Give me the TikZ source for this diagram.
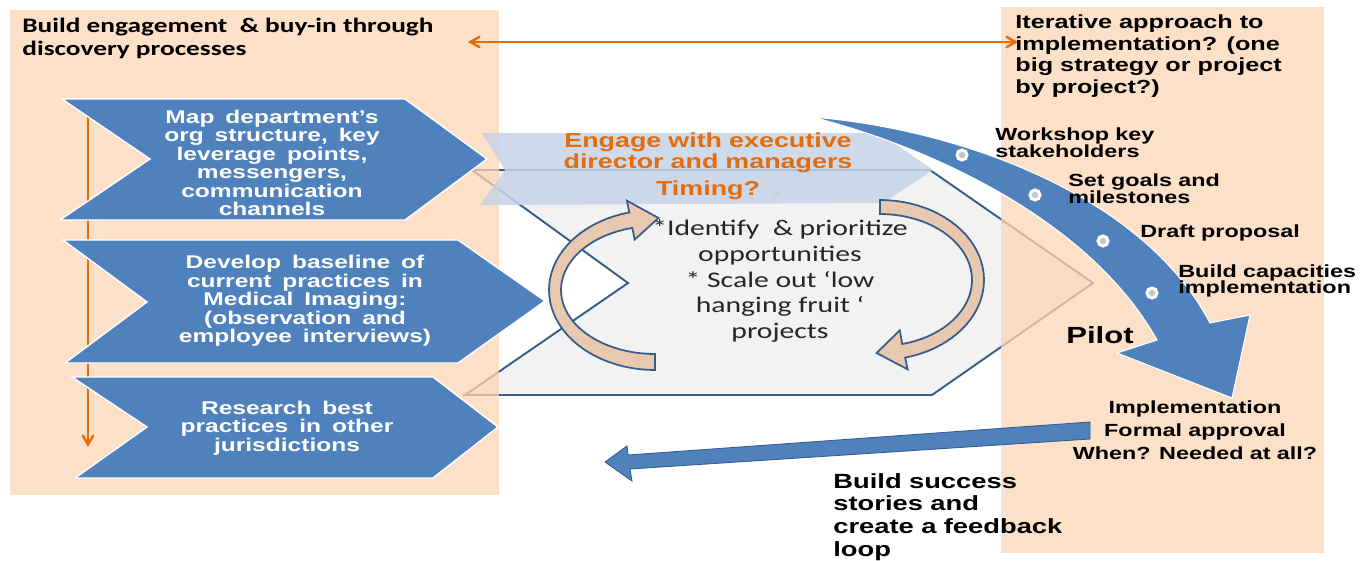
\documentclass[tikz,border=0pt]{standalone}
\usepackage{fontspec}
\newfontfamily\arialw{Liberation Sans}[FakeStretch=1.33]
\newfontfamily\arialsp{Liberation Sans}[FakeStretch=1.33,WordSpace=1.6]
\newfontfamily\calw{Carlito}[FakeStretch=1.33]
\newcommand\wordgap[1]{\spaceskip #1\relax}
\usetikzlibrary{shapes,arrows,positioning,calc}
\definecolor{peachbox}{HTML}{FCD5B5}
\definecolor{chevblue}{HTML}{4F81BD}
\definecolor{darkblue}{HTML}{385D8A}
\definecolor{centergray}{HTML}{F2F2F2}
\definecolor{bannerblue}{HTML}{C6D3E6}
\definecolor{orangeline}{HTML}{E46C0A}
\definecolor{arrowtan}{HTML}{E8C8AE}
\definecolor{textgray}{HTML}{262626}

\begin{document}
\begin{tikzpicture}[
    x=0.02cm, y=-0.02cm,
    peach/.style={fill=peachbox, fill opacity=0.75},
    chev/.style={fill=chevblue, draw=white, line width=0.8pt},
    chevtext/.style={text=white, font=\arialsp\bfseries\fontsize{10.5}{10.5}\selectfont, align=center, inner sep=0pt},
    note/.style={font=\arialw\bfseries\fontsize{10}{9.6}\selectfont\wordgap{3.6pt}, align=left, inner sep=0pt, anchor=west},
    banner/.style={fill=bannerblue, fill opacity=0.85},
    curl/.style={fill=arrowtan, draw=darkblue, line width=1pt},
    bigarrow/.style={fill=chevblue, draw=white, line width=0.6pt},
    dot/.style={circle, fill=gray!45, draw=white, line width=0.06cm, minimum size=0.2cm, inner sep=0pt},
    arrow/.style={>=angle 60, line width=1.4pt, draw=orangeline}
]
    \useasboundingbox (0,0) rectangle (1363,561);

    % centre chevron behind everything
    \path[fill=centergray, draw=darkblue, line width=1.1pt]
        (472,170) -- (930,170) -- (1093,283) -- (932,395) -- (465,395) -- (628,283) -- cycle;

    % the two peach panels
    \path[peach] (10,10) rectangle (499,495);
    \path[peach] (1001,7) rectangle (1324,553);

    % orange connectors
    \coordinate (lefttip) at (468,42);
    \coordinate (righttip) at (1018,42);
    \draw[arrow, <->] (lefttip) -- (righttip);
    \coordinate (linetop) at (88,115);
    \coordinate (linebot) at (88,447);
    \draw[arrow, ->] (linetop) -- (linebot);

    \node[font=\calw\bfseries\fontsize{11.7}{13}\selectfont, align=left, inner sep=0pt, anchor=west] (discovery) at (22,38)
        {Build engagement \ \& buy-in through\\discovery processes};

    % discovery chevrons
    \path[chev] (62,99) -- (405,99) -- (487,159) -- (405,220) -- (60,220) -- (150,159) -- cycle;
    \path[chev] (63,240) -- (458,240) -- (545,301) -- (458,363) -- (65,363) -- (147,302) -- cycle;
    \path[chev] (72,377) -- (433,377) -- (498,427) -- (433,478) -- (75,478) -- (147,427) -- cycle;
    \node[chevtext] (mapdept) at (272,163) {Map department’s\\org structure, key\\leverage points,\\messengers,\\communication\\channels};
    \node[chevtext] (baseline) at (305,301) {Develop baseline of\\current practices in\\Medical Imaging:\\(observation and\\employee interviews)};
    \node[chevtext] (research) at (287,428) {Research best\\practices in other\\jurisdictions};

    % executive banner
    \path[banner] (482,133) -- (880,133) -- (933,170) -- (883,203) -- (480,205) -- (505,170) -- cycle;
    \draw[bannerblue!75!gray, line width=0.4pt] (505,170) -- (933,170);
    \node[font=\arialw\bfseries\fontsize{11.5}{9.6}\selectfont\wordgap{4pt}, text=orangeline, align=center, inner sep=0pt] (engage) at (708,153)
        {Engage with executive\\director and managers};
    \node[font=\arialw\bfseries\fontsize{11.5}{11.5}\selectfont, text=orangeline, inner sep=0pt] (timing) at (708,190) {Timing?};
    \node[font=\calw\fontsize{9}{9}\selectfont, text=gray!45, inner sep=0pt] (timingstar) at (777,198) {*};

    % cycle arrows
    \path[curl] plot[domain=90:256, samples=40, variable=\t] ({655+106*cos(\t)}, {290+80*sin(\t)})
        -- (626.9,200.7) -- (658.5,218) -- (634.7,239.6)
        -- plot[domain=256:90, samples=40, variable=\t] ({655+94*cos(\t)}, {290+64*sin(\t)}) -- cycle;
    \path[curl] plot[domain=-90:76, samples=40, variable=\t] ({880+104*cos(\t)}, {280+80*sin(\t)})
        -- (907.6,369.3) -- (876.6,353) -- (899.8,330.4)
        -- plot[domain=76:-90, samples=40, variable=\t] ({880+92*cos(\t)}, {280+66*sin(\t)}) -- cycle;

    \node[font=\calw\fontsize{12.7}{14.7}\selectfont, text=textgray, align=center, inner sep=0pt] (identify) at (780,281)
        {*Identify \ \& prioritize\\opportunities\\* Scale out ‘low\\hanging fruit ‘\\projects};

    % pilot arrow
    \path[bigarrow] (812,117) .. controls (950,128) and (1140,190) .. (1210,323)
        -- (1250,315) -- (1232,398) -- (1117,353) -- (1157,340)
        .. controls (1090,220) and (930,147) .. (812,117) -- cycle;
    \node[dot] (dot1) at (962,155) {};
    \node[dot] (dot2) at (1035,195) {};
    \node[dot] (dot3) at (1103,241) {};
    \node[dot] (dot4) at (1152,293) {};

    % feedback arrow
    \path[fill=chevblue, draw=darkblue, line width=0.5pt]
        (1090,422) -- (628,455) -- (627,446) -- (605,462) -- (632,481) -- (630,469) -- (1090,439) -- cycle;

    % right panel texts
    \node[font=\arialw\bfseries\fontsize{10.8}{12.3}\selectfont\wordgap{4pt}, align=left, inner sep=0pt, anchor=west] (iterative) at (1015,56)
        {Iterative approach to\\implementation? (one\\big strategy or project\\by project?)};
    \node[note] (workshop) at (995,143) {Workshop key\\stakeholders};
    \node[note] (goals) at (1068,189) {Set goals and\\milestones};
    \node[note] (draft) at (1140,233) {Draft proposal};
    \node[note] (capacities) at (1178,281) {Build capacities\\implementation};
    \node[font=\arialw\bfseries\fontsize{13.3}{13.3}\selectfont, inner sep=0pt] (pilot) at (1100,335) {Pilot};
    \node[font=\arialw\bfseries\fontsize{10}{13}\selectfont\wordgap{3.6pt}, align=center, inner sep=0pt] (approval) at (1195,430)
        {Implementation\\Formal approval\\When? Needed at all?};
    \node[font=\arialw\bfseries\fontsize{11.7}{13}\selectfont\wordgap{4.2pt}, align=left, inner sep=0pt, anchor=west] (success) at (833,517)
        {Build success\\stories and\\create a feedback\\loop};
\end{tikzpicture}
\end{document}
